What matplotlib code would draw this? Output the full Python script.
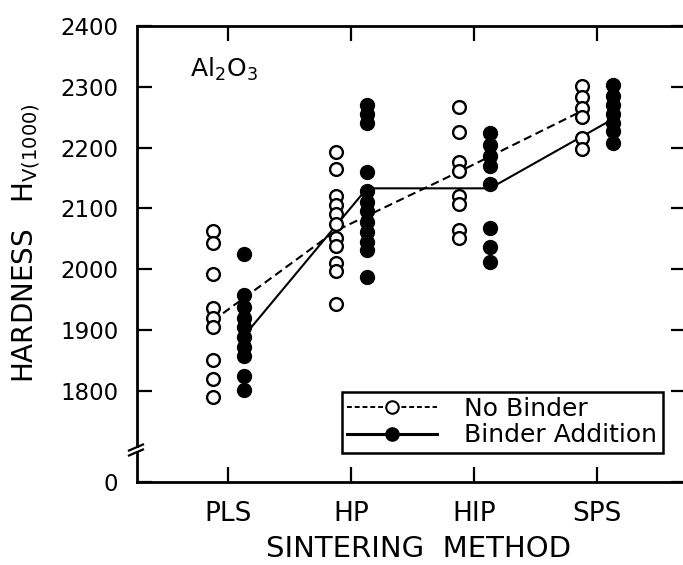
import matplotlib
matplotlib.use("Agg")
import matplotlib.pyplot as plt
from matplotlib.lines import Line2D
from matplotlib.patches import Rectangle

plt.rcParams['font.family'] = ['DejaVu Sans']
plt.rcParams['mathtext.default'] = 'regular'

# ---- data -------------------------------------------------------------
methods = ["PLS", "HP", "HIP", "SPS"]

# No binder (open circles)
pls_open = [2063, 2043, 1992, 1937, 1920, 1905, 1850, 1820, 1790]
hp_open = [2192, 2165, 2120, 2105, 2090, 2075, 2052, 2038, 2010, 1997, 1942]
hip_open = [2267, 2226, 2177, 2162, 2120, 2108, 2065, 2051]
sps_open = [2302, 2284, 2265, 2250, 2215, 2197]

# Binder addition (filled circles)
pls_fill = [2025, 1957, 1938, 1920, 1905, 1888, 1872, 1857, 1825, 1802]
hp_fill = [2270, 2255, 2240, 2160, 2128, 2110, 2095, 2078, 2062, 2045, 2032, 1987]
hip_fill = [2224, 2204, 2187, 2170, 2140, 2067, 2037, 2012]
sps_fill = [2303, 2285, 2270, 2255, 2240, 2227, 2207]

# mean lines
nb_mean = [1915, 2063, 2160, 2260]
ba_mean = [1890, 2133, 2133, 2247]

y_ticks = [1800, 1900, 2000, 2100, 2200, 2300, 2400]
zero_pos = 1650   # display position of the "0" label below the axis break

open_groups = [pls_open, hp_open, hip_open, sps_open]
fill_groups = [pls_fill, hp_fill, hip_fill, sps_fill]

# ---- figure -----------------------------------------------------------
W, H = 683, 565
fig = plt.figure(figsize=(W / 100, H / 100), dpi=100)
left_px, right_px, top_px, bot_px = 137, 686, 26, 482
ax = fig.add_axes([left_px / W, (H - bot_px) / H,
                   (right_px - left_px) / W, (bot_px - top_px) / H])

x_of = list(range(len(methods)))
off_open, off_fill = -0.125, 0.13

xo = [x + off_open for x in x_of]
xf = [x + off_fill for x in x_of]

ax.plot(xo, nb_mean, ls=(0, (4, 2.2)), color='black', lw=1.5, zorder=2)
ax.plot(xf, ba_mean, ls='-', color='black', lw=1.5, zorder=2)

for x, vals in zip(xo, open_groups):
    ax.plot([x] * len(vals), vals, 'o', ms=9.2, mfc='white', mec='black',
            mew=1.7, ls='none', zorder=3)
for x, vals in zip(xf, fill_groups):
    ax.plot([x] * len(vals), vals, 'o', ms=10, mfc='black', mec='black',
            mew=1.0, ls='none', zorder=4)

ax.set_xlim((left_px - 228) / 123.0, (right_px - 228) / 123.0)
ax.set_ylim(zero_pos, 2400)

ax.set_xticks(x_of)
ax.set_xticklabels(methods, fontsize=19)
ax.set_yticks([zero_pos] + y_ticks)
ax.set_yticklabels(["0"] + [str(v) for v in y_ticks], fontsize=16.5)

ax.tick_params(axis='both', direction='in', length=11, width=1.6,
               top=True, right=True, color='black')
ax.tick_params(axis='y', pad=13.5)
ax.tick_params(axis='x', pad=14)

for s in ['left', 'bottom', 'top']:
    ax.spines[s].set_linewidth(2.0)
ax.spines['right'].set_visible(False)

# axis break on left spine
yb = (bot_px - 450) / (bot_px - top_px)
px = 1.0 / (right_px - left_px)
py = 1.0 / (bot_px - top_px)
ax.add_patch(Rectangle((-4 * px, yb - 2 * py), 8 * px, 4 * py,
                       transform=ax.transAxes, facecolor='white',
                       edgecolor='none', clip_on=False, zorder=10))
for d in (-2.5, 2.5):
    ax.add_line(Line2D([-8 * px, 6 * px],
                       [yb + (d - 3) * py, yb + (d + 3) * py],
                       transform=ax.transAxes, color='black', lw=1.6,
                       clip_on=False, zorder=11))

# Al2O3 label
ax.text((190 - left_px) * px, (bot_px - 77) * py, 'Al$_2$O$_3$',
        transform=ax.transAxes, fontsize=18, ha='left', va='baseline')

# axis labels
fig.text(26 / W, 1 - 243 / H, 'HARDNESS   H$_{V(1000)}$', rotation=90,
         ha='center', va='center', fontsize=20)
fig.text(419 / W, 1 - 549 / H, 'SINTERING  METHOD', ha='center',
         va='center', fontsize=21)

# legend
h1 = Line2D([], [], ls=(0, (2.5, 1.5)), color='black', lw=1.4, marker='o',
            ms=9, mfc='white', mec='black', mew=1.5)
h2 = Line2D([], [], ls='-', color='black', lw=2.2, marker='o', ms=9.5,
            mfc='black', mec='black')
leg = ax.legend([h1, h2], ['No Binder', 'Binder Addition'],
                loc='upper left',
                bbox_to_anchor=((342 - left_px) * px, (bot_px - 392) * py),
                borderaxespad=0, fontsize=18, frameon=True, fancybox=False,
                edgecolor='black', handlelength=3.6, handletextpad=1.1,
                labelspacing=0.1, borderpad=0.2, numpoints=1,
                framealpha=1)
leg.get_frame().set_linewidth(1.8)

fig.savefig('out.png', dpi=100)
